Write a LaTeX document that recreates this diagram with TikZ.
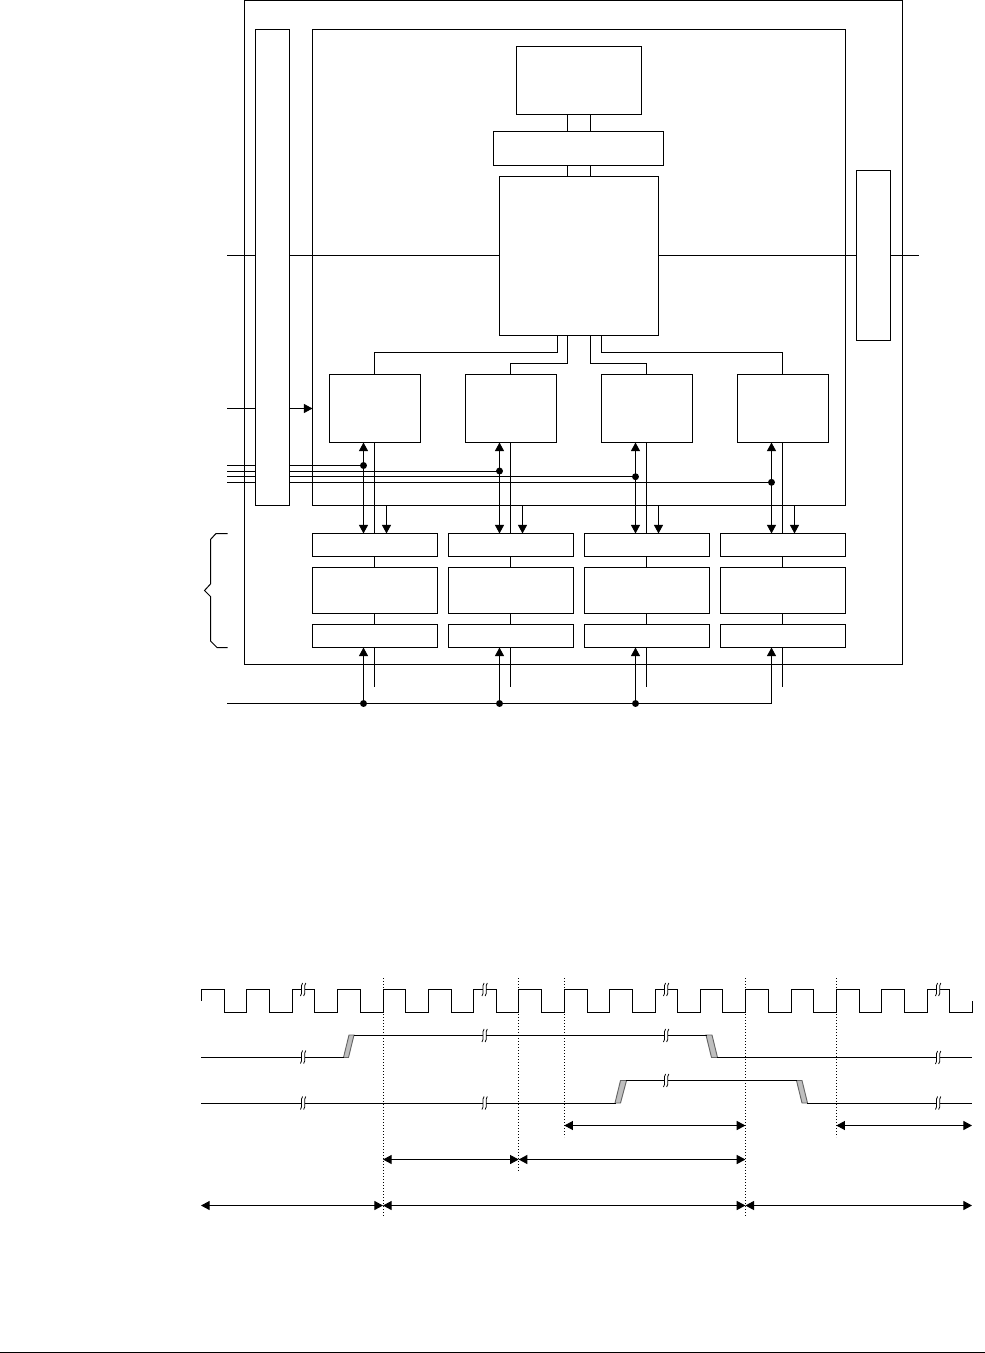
\documentclass[tikz,border=0pt]{standalone}
\usetikzlibrary{arrows.meta,calc}
\tikzset{
  wire/.style={line width=0.75pt,draw=black},
  boxn/.style={draw=black,line width=0.75pt,fill=white,rectangle,inner sep=0pt,outer sep=0pt},
  junction/.style={circle,fill=black,inner sep=0pt,outer sep=0pt,minimum size=5.2pt},
  sgl/.style={wire,-{Triangle[length=6.5pt,width=6.8pt]}},
  dbl/.style={wire,{Triangle[length=6.5pt,width=6.8pt]}-{Triangle[length=6.5pt,width=6.8pt]}},
  guide/.style={line width=0.75pt,dash pattern=on 0.9pt off 1.35pt},
  ramp/.style={fill=black!25,draw=black!60,line width=0.7pt,line join=miter}
}
\newcommand{\bx}[5]{\node[boxn,minimum width={(#4-(#2))*0.75pt},minimum height={(#5-(#3))*0.75pt}] (#1) at ({(#2+#4)/2},{(#3+#5)/2}) {};}
\newcommand{\brk}[2]{%
  \fill[white] (#1-1.7,#2-2) rectangle (#1+1.7,#2+2);
  \draw[line width=0.6pt] (#1-0.4,#2-6.5) .. controls (#1-2.9,#2-5) and (#1,#2+5) .. (#1-2.6,#2+6.5);
  \draw[line width=0.6pt] (#1+2.8,#2-6.5) .. controls (#1+0.3,#2-5) and (#1+3.2,#2+5) .. (#1+0.6,#2+6.5);
}
\begin{document}
\begin{tikzpicture}[x=0.75pt,y=-0.75pt]
\useasboundingbox (0,0) rectangle (985,1353);
% outer frames
\bx{outer}{244.5}{0.5}{902.5}{664.5}
\bx{main}{312.5}{29.5}{845.5}{505.5}
\bx{lbar}{255.5}{29.5}{289.5}{505.5}
\bx{rbar}{856.5}{170.5}{890.5}{340.5}
% upper blocks
\bx{top}{516.5}{46.5}{641.5}{114.5}
\bx{mid}{493.5}{131.5}{663.5}{165.5}
\bx{big}{499.5}{176.5}{658.5}{335.5}
\coordinate (l1) at (567.8,0);
\coordinate (l2) at (590.8,0);
\draw[wire] (l1 |- top.south) -- (l1 |- mid.north);
\draw[wire] (l2 |- top.south) -- (l2 |- mid.north);
\draw[wire] (l1 |- mid.south) -- (l1 |- big.north);
\draw[wire] (l2 |- mid.south) -- (l2 |- big.north);
% columns
\foreach \i in {1,2,3,4}{
  \pgfmathsetmacro{\dx}{136*(\i-1)}
  \bx{a\i}{329.5+\dx}{374.5}{420.5+\dx}{442.5}
  \bx{t\i}{312.5+\dx}{533.5}{437.5+\dx}{556.5}
  \bx{m\i}{312.5+\dx}{567.5}{437.5+\dx}{613.5}
  \bx{u\i}{312.5+\dx}{624.5}{437.5+\dx}{647.5}
  \coordinate (c\i) at (374.6+\dx,0);
  \draw[wire] (c\i |- a\i.south) -- (c\i |- t\i.north);
  \draw[wire] (c\i |- t\i.south) -- (c\i |- m\i.north);
  \draw[wire] (c\i |- m\i.south) -- (c\i |- u\i.north);
  \coordinate (e\i) at (374.6+\dx,687);
  \draw[wire] (c\i |- u\i.south) -- (e\i);
  \coordinate (tap\i) at (386.5+\dx,0);
  \draw[sgl] (tap\i |- main.south) -- (tap\i |- t\i.north);
}
% big block to columns
\coordinate (s1) at (557.8,352.5);
\coordinate (s2) at (567.8,363.5);
\coordinate (s3) at (590.8,363.5);
\coordinate (s4) at (601.3,352.5);
\draw[wire] (s1 |- big.south) -- (s1) -| (c1 |- a1.north);
\draw[wire] (s2 |- big.south) -- (s2) -| (c2 |- a2.north);
\draw[wire] (s3 |- big.south) -- (s3) -| (c3 |- a3.north);
\draw[wire] (s4 |- big.south) -- (s4) -| (c4 |- a4.north);
% through line
\coordinate (inl) at (227,255.5);
\coordinate (outr) at (918.5,255.5);
\draw[wire] (inl) -- (inl -| lbar.west);
\draw[wire] (inl -| lbar.east) -- (inl -| big.west);
\draw[wire] (outr -| big.east) -- (outr -| rbar.west);
\draw[wire] (outr -| rbar.east) -- (outr);
% arrow into main
\coordinate (ina) at (227,408.5);
\draw[wire] (ina) -- (ina -| lbar.west);
\draw[sgl] (ina -| lbar.east) -- (ina -| main.west);
% bus junctions
\node[junction] (d1) at (363.5,465.5) {};
\node[junction] (d2) at (499.5,471) {};
\node[junction] (d3) at (635.5,476.7) {};
\node[junction] (d4) at (771.5,482.3) {};
\coordinate (b1) at (227,465.5);
\coordinate (b2) at (227,471);
\coordinate (b3) at (227,476.7);
\coordinate (b4) at (227,482.3);
\foreach \i in {1,2,3,4}{
  \draw[wire] (b\i) -- (b\i -| lbar.west);
  \draw[wire] (b\i -| lbar.east) -- (d\i.center);
  \draw[sgl] (d\i.center) -- (d\i |- a\i.south);
  \draw[sgl] (d\i.center) -- (d\i |- t\i.north);
}
% bottom bus
\coordinate (bin) at (227,703.5);
\coordinate (bc) at (771.5,703.5);
\node[junction] (j1) at (363.5,703.5) {};
\node[junction] (j2) at (499.5,703.5) {};
\node[junction] (j3) at (635.5,703.5) {};
\draw[wire] (bin) -- (bc);
\draw[sgl] (j1.center) -- (j1 |- u1.south);
\draw[sgl] (j2.center) -- (j2 |- u2.south);
\draw[sgl] (j3.center) -- (j3 |- u3.south);
\draw[sgl] (bc) -- (bc |- u4.south);
% brace
\draw[wire,line join=miter] (227.5,533.5) -- (216,533.5) -- (210.5,539.5) -- (210.5,584) -- (204.5,590.5) -- (210.5,596.5) -- (210.5,641) -- (217,647.5) -- (227.5,647.5);
% ---- timing ----
\coordinate (g1) at (383,978);
\coordinate (g2) at (518.7,978);
\coordinate (g3) at (564.3,978);
\coordinate (g4) at (745.4,978);
\coordinate (g5) at (836.3,978);
\draw[guide] (g1) -- ++(0,239);
\draw[guide] (g2) -- ++(0,194);
\draw[guide] (g3) -- ++(0,159);
\draw[guide] (g4) -- ++(0,239);
\draw[guide] (g5) -- ++(0,159);
% clock
\draw[wire,line join=miter] (201,1000.5) |- (224,989.5) |- (246,1012.5) |- (269,989.5) |- (292,1012.5) |- (314.5,989.5)
 |- (337,1012.5) |- (360,989.5) |- (383,1012.5) |- (405.5,989.5) |- (428,1012.5) |- (451,989.5) |- (473.5,1012.5) |- (496,989.5)
 |- (518.7,1012.5) |- (541.5,989.5) |- (564.3,1012.5) |- (587,989.5) |- (609.5,1012.5) |- (632,989.5) |- (655,1012.5) |- (677.5,989.5)
 |- (700,1012.5) |- (722.5,989.5) |- (745.4,1012.5) |- (768,989.5) |- (791,1012.5) |- (813.5,989.5) |- (836.3,1012.5) |- (859,989.5)
 |- (881.5,1012.5) |- (904,989.5) |- (927,1012.5) |- (949.5,989.5) |- (972,1012.5) -- (972,1001);
\brk{303}{989.5}\brk{484.5}{989.5}\brk{666}{989.5}\brk{938}{989.5}
% signal 2
\draw[ramp] (343.5,1057.5) -- (348.5,1057.5) -- (354,1035) -- (349,1035) -- cycle;
\draw[ramp] (706,1035) -- (712,1035) -- (717.5,1057.5) -- (711.5,1057.5) -- cycle;
\draw[wire] (201,1057) -- (344,1057);
\draw[wire] (354,1035.5) -- (706.5,1035.5);
\draw[wire] (717,1057.5) -- (972,1057.5);
\brk{303}{1057}\brk{484.5}{1035.5}\brk{666}{1035.5}\brk{938}{1057.5}
% signal 3
\draw[ramp] (615,1103) -- (620.5,1103) -- (626.5,1080.5) -- (620.5,1080.5) -- cycle;
\draw[ramp] (796.5,1080.5) -- (802,1080.5) -- (807.5,1103) -- (802,1103) -- cycle;
\draw[wire] (201,1103) -- (615.5,1103);
\draw[wire] (626,1080.5) -- (797,1080.5);
\draw[wire] (807,1103) -- (972,1103);
\brk{303}{1103}\brk{484.5}{1103}\brk{666}{1080.5}\brk{938}{1103}
% dimension arrows
\draw[dbl] (g3 |- 0,1125.5) -- (g4 |- 0,1125.5);
\draw[dbl] (g5 |- 0,1125.5) -- (972,1125.5);
\draw[dbl] (g1 |- 0,1159.5) -- (g2 |- 0,1159.5);
\draw[dbl] (g2 |- 0,1159.5) -- (g4 |- 0,1159.5);
\draw[dbl] (201,1205.5) -- (g1 |- 0,1205.5);
\draw[dbl] (g1 |- 0,1205.5) -- (g4 |- 0,1205.5);
\draw[dbl] (g4 |- 0,1205.5) -- (972,1205.5);
% page rule
\draw[line width=1pt] (0,1352.3) -- (985,1352.3);
\end{tikzpicture}
\end{document}
